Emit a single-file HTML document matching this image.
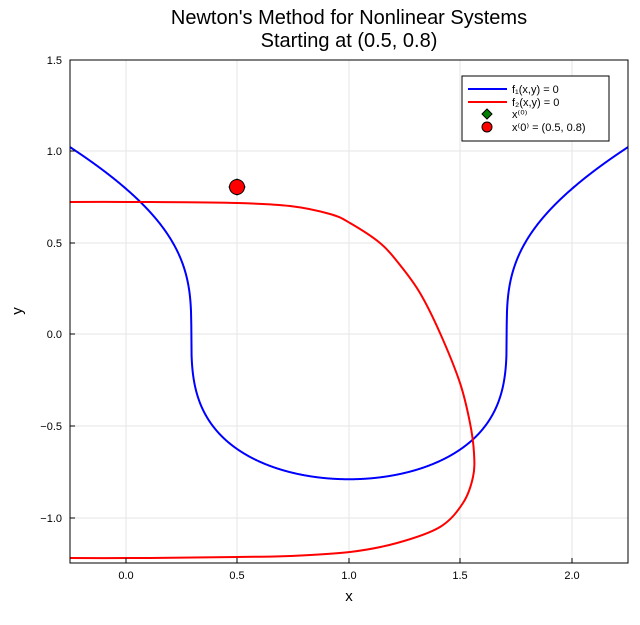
<!DOCTYPE html>
<html><head><style>
body{margin:0;background:#fff}
svg text{font-family:"Liberation Sans","DejaVu Sans",sans-serif}
</style></head><body>
<svg id="s" width="640" height="620" viewBox="0 0 640 620">
<rect width="640" height="620" fill="#fff"/>
<g stroke="#e6e6e6" stroke-width="1">
<line x1="126" y1="60" x2="126" y2="563"/><line x1="237" y1="60" x2="237" y2="563"/><line x1="349" y1="60" x2="349" y2="563"/><line x1="460" y1="60" x2="460" y2="563"/><line x1="572" y1="60" x2="572" y2="563"/>
<line x1="70" y1="151" x2="628" y2="151"/><line x1="70" y1="243" x2="628" y2="243"/><line x1="70" y1="334" x2="628" y2="334"/><line x1="70" y1="426" x2="628" y2="426"/><line x1="70" y1="518" x2="628" y2="518"/>
</g>
<clipPath id="c"><rect x="70" y="60" width="558" height="503"/></clipPath>
<g clip-path="url(#c)">
<path id="blue" fill="none" stroke="#0000ff" stroke-width="2"/>
<path id="red" fill="none" stroke="#ff0000" stroke-width="2"/>
</g>
<rect x="70" y="60" width="558" height="503" fill="none" stroke="#000" stroke-width="1"/>
<g stroke="#000"><line x1="126" y1="563" x2="126" y2="558"/><line x1="237" y1="563" x2="237" y2="558"/><line x1="349" y1="563" x2="349" y2="558"/><line x1="460" y1="563" x2="460" y2="558"/><line x1="572" y1="563" x2="572" y2="558"/>
<line x1="70" y1="151" x2="75" y2="151"/><line x1="70" y1="243" x2="75" y2="243"/><line x1="70" y1="334" x2="75" y2="334"/><line x1="70" y1="426" x2="75" y2="426"/><line x1="70" y1="518" x2="75" y2="518"/></g>
<g font-size="11" text-anchor="middle" fill="#000">
<text x="126" y="579">0.0</text><text x="237" y="579">0.5</text><text x="349" y="579">1.0</text><text x="460" y="579">1.5</text><text x="572" y="579">2.0</text>
</g>
<g font-size="11" text-anchor="end" fill="#000">
<text x="62" y="64">1.5</text><text x="62" y="155">1.0</text><text x="62" y="247">0.5</text><text x="62" y="338">0.0</text><text x="62" y="430">−0.5</text><text x="62" y="522">−1.0</text>
</g>
<text x="349" y="601" font-size="15" text-anchor="middle">x</text>
<text x="22" y="311" font-size="15" text-anchor="middle" transform="rotate(-90 22 311)">y</text>
<text x="349" y="24" font-size="20" text-anchor="middle">Newton's Method for Nonlinear Systems</text>
<text x="349" y="47" font-size="20" text-anchor="middle">Starting at (0.5, 0.8)</text>
<polygon points="237,179 245,187 237,195 229,187" fill="#007f00" stroke="#000"/>
<circle cx="237" cy="187" r="7.5" fill="#ff0000" stroke="#000"/>
<rect x="462" y="76" width="147" height="65" fill="#fff" stroke="#000"/>
<line x1="468" y1="89" x2="507" y2="89" stroke="#0000ff" stroke-width="2"/>
<line x1="468" y1="102" x2="507" y2="102" stroke="#ff0000" stroke-width="2"/>
<polygon points="487,109 492,114 487,119 482,114" fill="#007f00" stroke="#000"/>
<circle cx="487" cy="127" r="5" fill="#ff0000" stroke="#000"/>
<g font-size="11"><text x="512" y="93">f₁(x,y) = 0</text><text x="512" y="106">f₂(x,y) = 0</text><text x="512" y="118">x⁽⁰⁾</text><text x="512" y="131">x⁽0⁾ = (0.5, 0.8)</text></g>
</svg>
<script>
var d="";for(var i=0;i<=2000;i++){var x=-0.3+i*2.6/2000;var v=(x-1)*(x-1)-0.5;var y=Math.cbrt(v);var px=126+x*223,py=334-y*183;d+=(i?"L":"M")+px.toFixed(2)+","+py.toFixed(2);}
document.getElementById("blue").setAttribute("d",d);
var P=[[40,202],[150,202],[237,203],[290,206],[330,214],[350,223],[380,243],[400,265],[420,293],[440,333],[460,383],[470,423],[474,453],[473,477],[463,503],[440,527],[397,543],[350,552],[290,556],[237,557],[150,558],[40,558]];
var r="M"+P[0][0]+","+P[0][1];
for(var k=0;k<P.length-1;k++){var p0=P[Math.max(k-1,0)],p1=P[k],p2=P[k+1],p3=P[Math.min(k+2,P.length-1)];
r+="C"+(p1[0]+(p2[0]-p0[0])/6).toFixed(2)+","+(p1[1]+(p2[1]-p0[1])/6).toFixed(2)+" "+(p2[0]-(p3[0]-p1[0])/6).toFixed(2)+","+(p2[1]-(p3[1]-p1[1])/6).toFixed(2)+" "+p2[0]+","+p2[1];}
document.getElementById("red").setAttribute("d",r);
</script>
</body></html>
